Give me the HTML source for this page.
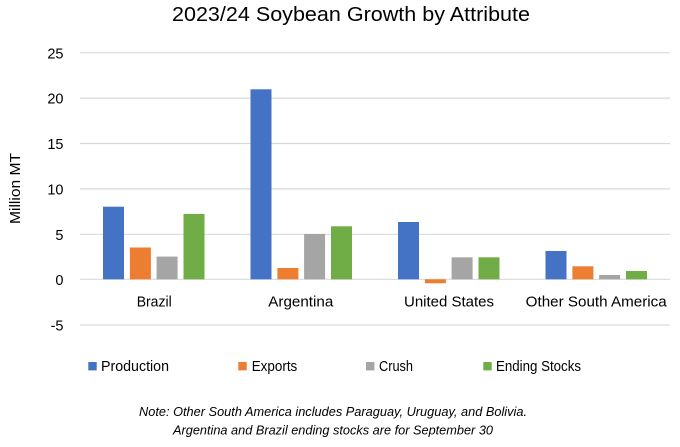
<!DOCTYPE html>
<html><head><meta charset="utf-8"><style>
html,body{margin:0;padding:0;background:#fff;}
svg{display:block;}
text{font-family:"Liberation Sans",sans-serif;fill:#000;}
</style></head><body>
<svg width="680" height="447" viewBox="0 0 680 447" xmlns="http://www.w3.org/2000/svg">
<rect width="680" height="447" fill="#fff"/>
<text x="172" y="21" font-size="20" textLength="358" lengthAdjust="spacingAndGlyphs">2023/24 Soybean Growth by Attribute</text>
<g stroke="#d9d9d9" stroke-width="1.2">
<line x1="80" x2="670" y1="52.7" y2="52.7"/>
<line x1="80" x2="670" y1="98.1" y2="98.1"/>
<line x1="80" x2="670" y1="143.5" y2="143.5"/>
<line x1="80" x2="670" y1="188.9" y2="188.9"/>
<line x1="80" x2="670" y1="234.3" y2="234.3"/>
<line x1="80" x2="670" y1="279.3" y2="279.3"/>
<line x1="80" x2="670" y1="325" y2="325"/>
</g>
<g font-size="14.5" text-anchor="end">
<text x="63.5" y="58.3">25</text>
<text x="63.5" y="103.7">20</text>
<text x="63.5" y="149.1">15</text>
<text x="63.5" y="194.5">10</text>
<text x="63.5" y="239.9">5</text>
<text x="63.5" y="284.9">0</text>
<text x="63.5" y="330.6">-5</text>
</g>
<text transform="translate(20,224) rotate(-90)" font-size="14.5" textLength="71" lengthAdjust="spacingAndGlyphs">Million MT</text>
<!-- Brazil c=153.75 -->
<rect x="103" y="206.7" width="21" height="72.6" fill="#4472c4"/>
<rect x="129.9" y="247.5" width="21" height="31.8" fill="#ed7d31"/>
<rect x="156.6" y="256.6" width="21" height="22.7" fill="#a5a5a5"/>
<rect x="183.5" y="213.9" width="21" height="65.4" fill="#70ad47"/>
<!-- Argentina c=301.25 -->
<rect x="250.5" y="89.3" width="21" height="190" fill="#4472c4"/>
<rect x="277.4" y="268" width="21" height="11.3" fill="#ed7d31"/>
<rect x="304.1" y="234" width="21" height="45.3" fill="#a5a5a5"/>
<rect x="331" y="226.3" width="21" height="53" fill="#70ad47"/>
<!-- United States c=448.75 -->
<rect x="398" y="222" width="21" height="57.3" fill="#4472c4"/>
<rect x="424.9" y="279.3" width="21" height="4" fill="#ed7d31"/>
<rect x="451.6" y="257.3" width="21" height="22" fill="#a5a5a5"/>
<rect x="478.5" y="257.3" width="21" height="22" fill="#70ad47"/>
<!-- Other South America c=596.25 -->
<rect x="545.5" y="251" width="21" height="28.3" fill="#4472c4"/>
<rect x="572.4" y="266.3" width="21" height="13" fill="#ed7d31"/>
<rect x="599.1" y="275" width="21" height="4.3" fill="#a5a5a5"/>
<rect x="626" y="271" width="21" height="8.3" fill="#70ad47"/>
<g font-size="14.5">
<text x="136.7" y="306.7" textLength="35" lengthAdjust="spacingAndGlyphs">Brazil</text>
<text x="268.3" y="306.7" textLength="65" lengthAdjust="spacingAndGlyphs">Argentina</text>
<text x="404" y="306.7" textLength="90" lengthAdjust="spacingAndGlyphs">United States</text>
<text x="525.7" y="306.7" textLength="141" lengthAdjust="spacingAndGlyphs">Other South America</text>
</g>
<rect x="88.3" y="362" width="8.4" height="8.4" fill="#4472c4"/>
<rect x="238.3" y="362" width="8.4" height="8.4" fill="#ed7d31"/>
<rect x="366" y="362" width="8.4" height="8.4" fill="#a5a5a5"/>
<rect x="483.3" y="362" width="8.4" height="8.4" fill="#70ad47"/>
<g font-size="14.5">
<text x="101" y="371" textLength="68" lengthAdjust="spacingAndGlyphs">Production</text>
<text x="251.7" y="371" textLength="45.6" lengthAdjust="spacingAndGlyphs">Exports</text>
<text x="379" y="371" textLength="34" lengthAdjust="spacingAndGlyphs">Crush</text>
<text x="496" y="371" textLength="85" lengthAdjust="spacingAndGlyphs">Ending Stocks</text>
</g>
<g font-size="12.5" font-style="italic">
<text x="139" y="416" textLength="388" lengthAdjust="spacingAndGlyphs">Note: Other South America includes Paraguay, Uruguay, and Bolivia.</text>
<text x="173" y="434.3" textLength="320" lengthAdjust="spacingAndGlyphs">Argentina and Brazil ending stocks are for September 30</text>
</g>
</svg>
</body></html>
